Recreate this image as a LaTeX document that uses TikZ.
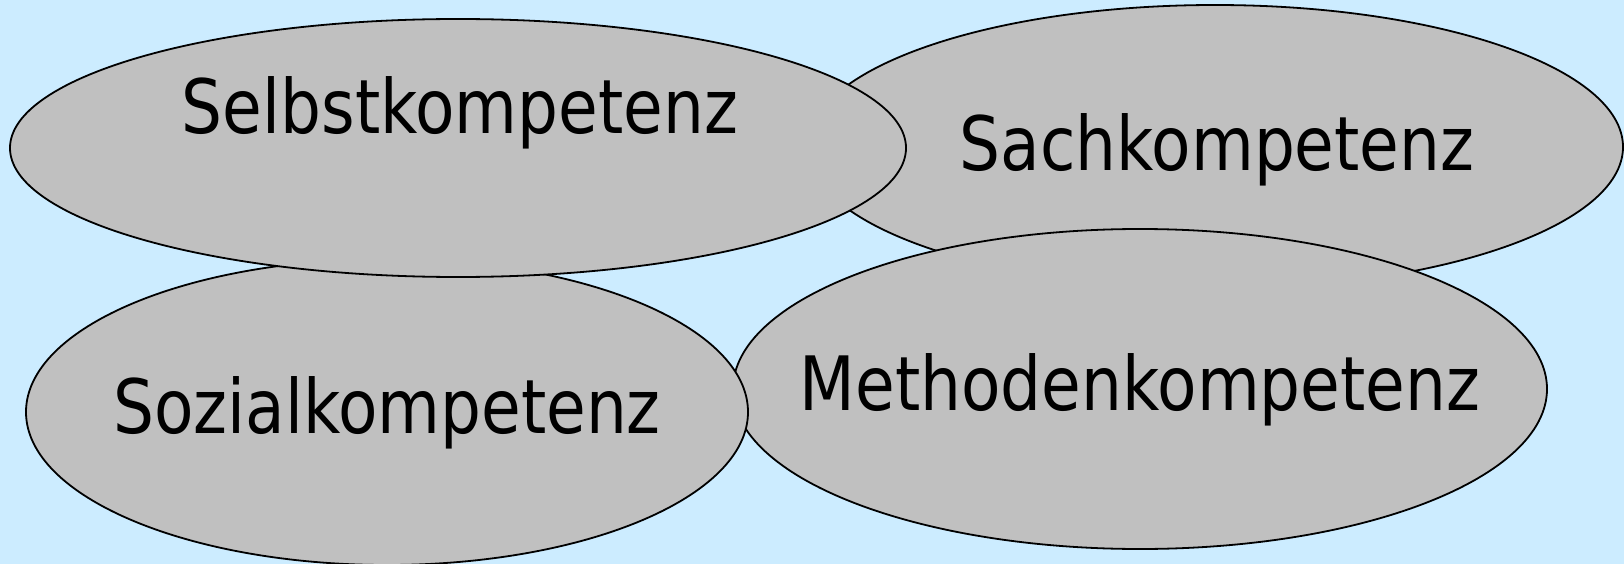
\documentclass[tikz,border=0pt]{standalone}
\usepackage{fontspec}
\setmainfont[FakeStretch=0.86]{DejaVu Sans}
\usetikzlibrary{shapes.geometric}
\definecolor{skyback}{HTML}{CCECFF}
\definecolor{kompgray}{HTML}{C0C0C0}
\tikzset{
  komp/.style={ellipse, draw, fill=kompgray, line width=1.8pt, inner sep=0pt},
  kompname/.style={font=\fontsize{75}{80}\selectfont, inner sep=0pt}
}
\begin{document}
\begin{tikzpicture}[x=1pt, y=-1pt]
  % Background
  \fill[skyback] (0, 0) rectangle (1624, 564);
  \useasboundingbox (0, 0) rectangle (1624, 564);
  % Ellipses, back to front
  \node (SACH) [komp, minimum width=816pt, minimum height=284pt] at (1215, 147) {};
  \node (SACH-T) [kompname] at (1217, 150) {Sachkompetenz};
  \node (METH) [komp, minimum width=814pt, minimum height=320pt] at (1140, 389) {};
  \node (METH-T) [kompname] at (1140, 390) {Methodenkompetenz};
  \node (SOZ) [komp, minimum width=722pt, minimum height=306pt] at (387, 412) {};
  \node (SOZ-T) [kompname] at (387, 413) {Sozialkompetenz};
  \node (SELBST) [komp, minimum width=896pt, minimum height=258pt] at (458, 148) {};
  \node (SELBST-T) [kompname] at (460, 113) {Selbstkompetenz};
\end{tikzpicture}
\end{document}
